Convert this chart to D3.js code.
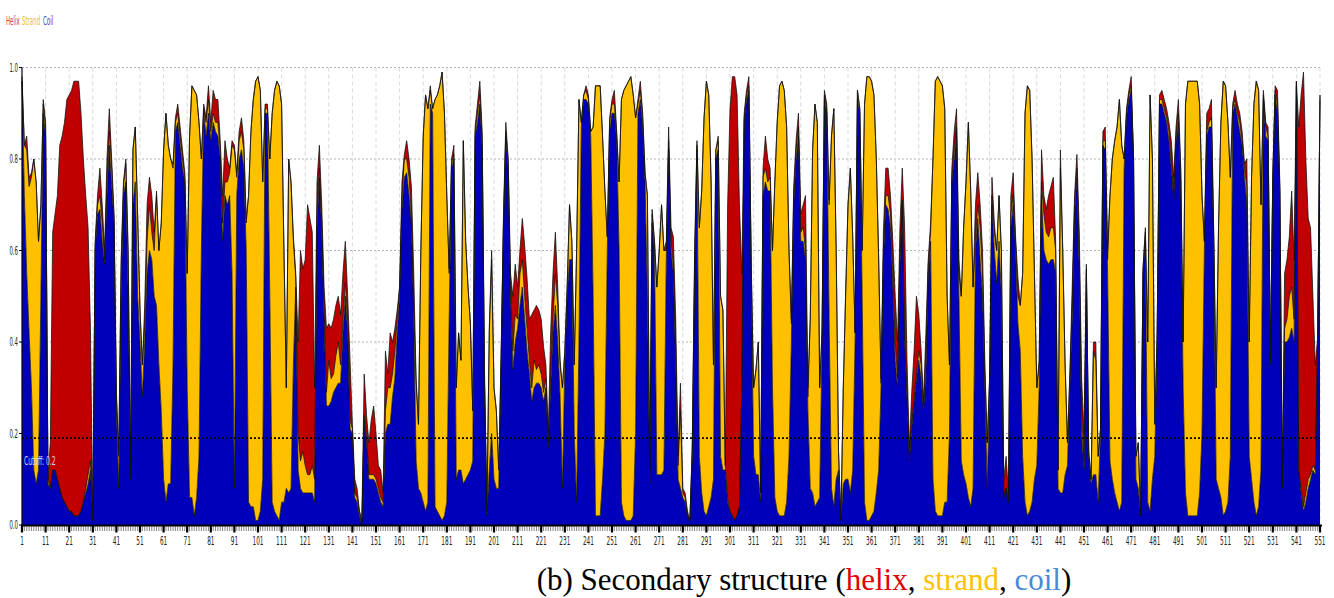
<!DOCTYPE html>
<html>
<head>
<meta charset="utf-8">
<script src="https://cdn.jsdelivr.net/npm/d3@7"></script>
<style>
  body { margin: 0; background: #fff; }
  svg { display: block; }
</style>
</head>
<body>
<div id="chart"></div>
<script>
// per-residue probabilities, residues 1..551 (rows of 10)
const coil = [
  .97,.72,.55,.42,.30,.12,.09,.12,.50,.90,
  .85,.09,.08,.12,.12,.10,.08,.06,.05,.04,
  .03,.03,.02,.02,.02,.03,.05,.07,.09,.12,
  .01,.60,.68,.69,.62,.57,.72,.83,.74,.66,
  .25,.08,.50,.72,.75,.50,.10,.70,.75,.50,
  .40,.28,.40,.55,.60,.58,.50,.48,.35,.25,
  .10,.05,.09,.09,.35,.86,.88,.83,.78,.75,
  .30,.06,.06,.02,.06,.15,.60,.90,.85,.90,
  .84,.88,.86,.85,.80,.62,.72,.70,.72,.55,
  .08,.72,.80,.82,.78,.60,.05,.04,.04,.01,
  .01,.03,.10,.90,.90,.50,.05,.03,.02,.01,
  .05,.05,.08,.07,.08,.35,.52,.12,.08,.07,
  .07,.07,.07,.07,.05,.65,.76,.64,.45,.26,
  .26,.27,.29,.30,.31,.31,.42,.50,.42,.21,
  .20,.06,.05,.02,0,.23,.18,.10,.10,.10,
  .09,.07,.05,.04,.20,.22,.22,.28,.32,.42,
  .50,.69,.76,.77,.72,.66,.45,.14,.08,.07,
  .05,.03,.05,.92,.90,.04,.03,.02,.01,.02,
  .05,.45,.78,.80,.10,.12,.12,.09,.10,.11,
  .12,.14,.85,.88,.92,.82,.30,.02,.12,.20,
  .10,.08,.08,.35,.65,.85,.78,.50,.34,.40,
  .43,.48,.52,.45,.38,.33,.27,.30,.31,.31,
  .30,.27,.30,.17,.30,.42,.48,.40,.28,.08,
  .35,.50,.58,.58,.20,.05,.40,.87,.93,.93,
  .92,.85,.50,.02,.02,.02,.10,.20,.60,.86,
  .90,.90,.84,.60,.05,.02,.01,.01,.01,.02,
  .20,.90,.93,.87,.75,.50,.09,.66,.60,.11,
  .11,.11,.12,.58,.82,.60,.55,.35,.10,.08,
  .06,.05,.02,.01,.15,.55,.82,.15,.07,.03,
  .02,.04,.06,.10,.80,.82,.15,.12,.12,.05,
  .03,.02,.01,.02,.04,.30,.88,.93,.95,.55,
  .15,.11,.11,.05,.72,.75,.73,.73,.30,.06,
  .03,.02,.02,.02,.05,.15,.40,.70,.80,.85,
  .62,.62,.58,.25,.08,.07,.04,.05,.06,.40,
  .93,.90,.45,.08,.04,.10,.12,.01,.09,.10,
  .10,.07,.12,.40,.93,.90,.50,.05,.01,.01,
  .02,.03,.07,.12,.30,.58,.70,.69,.65,.52,
  .36,.30,.57,.70,.40,.28,.14,.21,.27,.32,
  .36,.32,.25,.33,.55,.62,.10,.03,.02,.02,
  .02,.05,.05,.20,.75,.80,.86,.50,.14,.11,
  .09,.06,.04,.08,.60,.67,.58,.50,.30,.08,
  .30,.70,.60,.53,.62,.50,.06,.08,.05,.65,
  .70,.60,.44,.38,.15,.05,.02,.03,.05,.10,
  .13,.30,.72,.60,.58,.57,.58,.58,.55,.08,
  .07,.07,.11,.13,.30,.45,.68,.76,.55,.20,
  .12,.55,.15,.09,.11,.11,.05,.20,.83,.82,
  .55,.14,.10,.07,.05,.03,.05,.78,.89,.93,
  .95,.80,.10,.08,.02,.55,.62,.05,.03,.10,
  .15,.40,.92,.92,.90,.88,.84,.78,.71,.84,
  .88,.75,.30,.07,.02,.02,.02,.02,.02,.07,
  .20,.60,.85,.87,.87,.60,.10,.08,.06,.02,
  .03,.05,.15,.90,.92,.89,.86,.83,.76,.70,
  .15,.10,.05,.02,.04,.12,.93,.85,.84,.35,
  .75,.94,.90,.72,.08,.40,.40,.41,.43,.40,
  .96,.12,.07,.03,.05,.08,.10,.12,.11,.40,.93
];
const strand = [
  0,.11,.27,.32,.46,.68,.66,.50,.20,.02,
  .02,.01,0,0,0,0,0,0,0,0,
  0,0,0,0,0,0,0,.01,.02,.02,
  0,.01,.02,.03,.04,.01,.03,.03,.04,.01,
  .03,.07,.06,.02,.04,.08,.01,.12,.12,.18,
  .07,.07,.04,.07,.10,.06,.10,.24,.25,.41,
  .72,.85,.74,.71,.43,.02,.02,.02,.02,.01,
  .25,.79,.90,.93,.88,.73,.20,.01,.03,.03,
  .02,.02,.02,.03,.02,.04,.03,.05,.05,.28,
  .74,.04,.04,.04,.04,.06,.67,.82,.89,.96,
  .97,.92,.65,.01,.01,.30,.85,.92,.95,.95,
  .87,.55,.22,.73,.67,.27,.02,.08,.06,.09,
  .06,.04,.04,.06,.05,.03,.02,.02,.03,.03,
  .10,.05,.04,.07,.09,.04,.03,.03,.03,.02,
  .01,.01,.01,.01,0,.01,.01,.01,.01,.01,
  .01,.01,.01,.01,.05,.08,.08,.05,.06,.03,
  .02,.02,.04,.03,.04,.02,.02,.17,.14,.53,
  .80,.91,.86,.03,.01,.89,.91,.94,.98,.88,
  .67,.10,.01,.01,.20,.30,.24,.75,.52,.41,
  .32,.11,.01,.02,.02,.02,.01,.01,.30,.38,
  .20,.17,.04,.01,.01,.01,.02,.02,.04,.06,
  .02,.07,.06,.05,.05,.03,.03,.06,.03,.04,
  .03,.02,.02,.01,.03,.03,.07,.08,.07,.22,
  .03,.02,.12,.04,.15,.55,.53,.01,.01,.02,
  .01,.01,.37,.94,.94,.94,.75,.53,.03,.02,
  .02,.02,.01,.15,.88,.93,.95,.96,.97,.92,
  .69,.02,.02,.02,.02,.22,.03,.02,.02,.41,
  .49,.59,.48,.02,.02,.02,.02,.03,.03,.17,
  .01,.01,0,0,.01,.02,.01,.50,.66,.86,
  .95,.90,.69,.25,.02,.02,.35,.35,.01,.01,
  0,0,0,0,0,0,.01,.01,.01,.01,
  .15,.23,.29,.02,.04,.03,.02,.03,.30,.69,
  .85,.94,.95,.93,.82,.45,.04,.02,.02,.02,
  .02,.03,.02,.03,.37,.75,.88,.83,.24,.02,
  .01,.01,.25,.77,.87,.50,.04,0,.21,.40,
  .60,.71,.51,.02,.02,.01,.10,.87,.97,.97,
  .95,.91,.73,.46,.01,.02,.02,.03,.03,.04,
  .04,.02,.01,.01,.01,.01,.01,.01,.01,.01,
  .02,.03,.01,.03,.02,.02,.70,.94,.96,.95,
  .94,.86,.45,.15,.01,.02,.01,.05,.36,.54,
  .66,.82,.69,.44,.02,.03,.07,.05,.03,.10,
  .02,.02,.04,.07,.10,.10,0,0,0,.03,
  .02,.02,.06,.10,.40,.85,.94,.92,.75,.45,
  .17,.05,.03,.08,.06,.06,.07,.07,.05,.04,
  .71,.53,.24,.05,.02,.03,.02,.02,.05,.05,
  .02,.01,.01,.01,.27,.25,.10,.01,.01,.02,
  .03,.58,.70,.77,.82,.90,.78,.02,.01,.01,
  .01,0,.05,.10,0,.01,.02,.35,.91,.70,
  .07,.02,.01,.01,.01,.01,.02,.02,.01,.01,
  .02,.02,.10,.85,.95,.95,.95,.95,.95,.85,
  .52,.02,.01,.01,.02,.02,.20,.57,.82,.95,
  .93,.83,.61,.01,.01,.01,.02,.01,.02,.04,
  .25,.66,.87,.95,.91,.58,.01,.02,.01,.01,
  .01,.01,.02,.01,0,.03,.05,.09,.09,.05,
  .01,0,.01,.01,.02,.02,.01,.01,.01,.01,.01
];
const helix = [
  .01,0,.03,.02,.01,0,0,0,0,.01,
  .01,0,.10,.52,.56,.62,.75,.79,.83,.89,
  .91,.92,.95,.95,.95,.87,.75,.64,.54,.29,
  0,.01,.02,.06,.04,.02,.05,.05,.02,.01,
  .01,.01,.02,.01,.01,.02,0,0,0,0,
  0,0,.04,.08,.06,.08,.04,.01,0,0,
  0,0,0,0,.01,.01,.02,.02,.02,.01,
  0,0,0,0,0,0,0,.01,.01,.03,
  .02,.05,.05,.05,.02,.06,.09,.05,.01,.01,
  .01,.01,.02,.03,.02,.01,0,0,0,0,
  0,0,0,.01,.01,0,0,0,0,0,
  0,0,0,0,0,.01,.01,.20,.46,.40,
  .45,.59,.56,.51,.20,.07,.05,.04,.04,.14,
  .08,.11,.12,.11,.10,.11,.10,.09,.05,.13,
  .01,.03,.02,0,.01,.09,.05,.07,.12,.15,
  .10,.05,.06,.02,.13,.03,.12,.07,.05,.02,
  0,.04,.01,.04,.04,.06,.08,.01,0,0,
  0,0,0,.01,0,0,0,0,0,0,
  0,.01,.01,.02,0,0,0,0,0,0,
  0,0,.01,.02,.03,.02,.02,0,.01,.02,
  0,0,0,.01,.01,.02,0,.03,.12,.11,
  .07,.05,.09,.11,.11,.09,.16,.11,.14,.12,
  .12,.10,.03,.02,.09,.10,.09,.04,.01,0,
  0,0,0,0,0,0,0,0,0,.01,
  .01,0,0,0,0,0,0,0,0,.01,
  .01,.03,.01,0,0,0,0,0,0,0,
  0,.01,.02,.01,0,0,0,.01,0,0,
  0,0,0,.02,.03,.03,.06,.07,.02,.06,
  .01,.01,.01,0,.01,.03,.01,0,0,0,
  0,0,0,0,0,.01,0,0,0,.64,
  .88,.96,.97,.92,.66,.25,.01,.01,.02,.01,
  0,0,0,0,.02,.07,.05,.02,0,0,
  0,0,0,0,0,0,.01,.02,.02,.03,
  .04,.05,.12,.02,0,0,0,0,0,.01,
  .01,.01,.01,0,0,0,0,0,0,.01,
  0,0,0,0,0,0,0,0,0,0,
  0,0,0,0,.01,.04,.06,.06,.04,.06,
  .10,.08,.07,.07,.24,.07,.02,.07,.10,.17,
  .08,.03,.01,.06,.01,.02,0,0,0,0,
  0,0,0,0,.02,.04,.04,.03,0,0,
  0,0,0,0,.08,.07,.05,.05,.02,0,
  0,.04,.02,0,0,0,.04,.07,.02,.04,
  .05,.01,.04,0,0,0,0,0,0,0,
  0,.01,.07,.04,.05,.09,.09,.11,.02,0,
  .04,0,0,0,.01,.04,.02,.03,.04,.07,
  .06,.01,0,0,.02,.04,0,0,.02,.03,
  .02,0,0,0,0,0,0,0,.01,.01,
  .02,0,0,0,0,0,.01,0,0,0,
  0,0,.01,.02,.02,.02,.02,.04,.04,.02,
  .03,.01,0,0,0,0,0,0,0,0,
  0,0,.04,.03,.04,.01,0,0,0,0,
  0,0,0,.01,.02,.02,.02,.02,.01,.06,
  0,0,0,0,0,0,.01,.01,.02,0,
  .01,.01,.03,.01,.01,.12,.13,.13,.21,.13,
  0,.75,.86,.95,.73,.57,.54,.37,.23,0,0
];

const legendLabels = ["Helix", "Strand", "Coil"];
const xTicks = d3.range(1, 552, 10);
const yTicks = [0, 0.2, 0.4, 0.6, 0.8, 1.0];
const cutoff = 0.19;
const caption = ["(b) Secondary structure (", "helix", ", ", "strand", ", ", "coil", ")"];

const colors = {coil: "#0000bb", strand: "#ffc000", helix: "#c00000"};
const legendColors = ["#d23c3c", "#e8c020", "#3a3ad0"];
const captionColors = ["#000", "#e00000", "#000", "#ffc000", "#000", "#4a8ad8", "#000"];

const width = 1334, height = 598;

const svg = d3.select("#chart")
  .append("svg")
  .attr("width", width)
  .attr("height", height);

const x = d3.scaleLinear().domain([1, 551]).range([22, 1320]);
const y = d3.scaleLinear().domain([0, 1]).range([525, 67.5]);

// squeezed little labels like the original tool
function narrow(g, px, py, str, size, sx, anchor, fill) {
  return g.append("text")
    .attr("transform", "translate(" + px + "," + py + ") scale(" + sx + ",1)")
    .attr("text-anchor", anchor)
    .style("font-family", "DejaVu Sans, sans-serif")
    .style("font-size", size + "px")
    .attr("fill", fill)
    .text(str);
}

// grid
const grid = svg.append("g");
grid.selectAll("line.h")
  .data(yTicks.filter(d => d > 0))
  .enter().append("line")
  .attr("x1", x(1)).attr("x2", x(551) + 2)
  .attr("y1", d => y(d)).attr("y2", d => y(d))
  .attr("stroke", "#b4b4b4")
  .attr("stroke-width", 1.2)
  .attr("stroke-dasharray", "2,2");
grid.selectAll("line.v")
  .data(xTicks.slice(1))
  .enter().append("line")
  .attr("x1", d => x(d)).attr("x2", d => x(d))
  .attr("y1", y(1)).attr("y2", y(0))
  .attr("stroke", "#d8d8d8")
  .attr("stroke-width", 1)
  .attr("stroke-dasharray", "4,3");

// stacked areas
const rows = coil.map((c, i) => ({residue: i + 1, coil: c, strand: strand[i], helix: helix[i]}));
const keys = ["coil", "strand", "helix"];
const series = d3.stack().keys(keys)(rows);

const area = d3.area()
  .x(d => x(d.data.residue))
  .y0(d => y(d[0]))
  .y1(d => y(d[1]));

const edge = d3.line()
  .x(d => x(d.data.residue))
  .y(d => y(d[1]));

svg.append("g")
  .selectAll("path")
  .data(series)
  .enter().append("path")
  .attr("d", area)
  .attr("fill", d => colors[d.key]);

svg.append("g")
  .selectAll("path")
  .data(series)
  .enter().append("path")
  .attr("d", edge)
  .attr("fill", "none")
  .attr("stroke", "#111")
  .attr("stroke-opacity", 0.85)
  .attr("stroke-width", 0.9);

// cutoff line
svg.append("line")
  .attr("x1", x(1)).attr("x2", x(551) + 2)
  .attr("y1", y(cutoff)).attr("y2", y(cutoff))
  .attr("stroke", "#000")
  .attr("stroke-width", 1.6)
  .attr("stroke-dasharray", "2,2");
narrow(svg, 24, y(cutoff) + 27, "Cutoff: 0.2", 12, 0.5, "start", "#d8d8f0");

// left edge
svg.append("line")
  .attr("x1", x(1)).attr("x2", x(1))
  .attr("y1", y(1)).attr("y2", y(0))
  .attr("stroke", "#000").attr("stroke-width", 1.2);

// y axis labels and ticks
const yAxis = svg.append("g");
yTicks.forEach(t => {
  yAxis.append("line")
    .attr("x1", 19).attr("x2", 22)
    .attr("y1", y(t)).attr("y2", y(t))
    .attr("stroke", "#000");
  narrow(yAxis, 18, y(t) + 4, t.toFixed(1), 12, 0.45, "end", "#222");
});

// x axis
const xAxis = svg.append("g");
xAxis.append("line")
  .attr("x1", x(1) - 1).attr("x2", x(551) + 2)
  .attr("y1", y(0) + 0.5).attr("y2", y(0) + 0.5)
  .attr("stroke", "#000").attr("stroke-width", 2);
xAxis.selectAll("line.minor")
  .data(rows.map(d => d.residue))
  .enter().append("line")
  .attr("x1", d => x(d)).attr("x2", d => x(d))
  .attr("y1", y(0) + 1).attr("y2", y(0) + 6)
  .attr("stroke", "#333").attr("stroke-width", 0.6);
xAxis.selectAll("line.major")
  .data(xTicks)
  .enter().append("line")
  .attr("x1", d => x(d)).attr("x2", d => x(d))
  .attr("y1", y(0) + 1).attr("y2", y(0) + 7.5)
  .attr("stroke", "#000").attr("stroke-width", 2.2);
xTicks.forEach(t => {
  narrow(xAxis, x(t), 545, String(t), 12, 0.48, "middle", "#222");
});

// legend
const legend = svg.append("g");
const legendX = [6, 22, 43];
legendLabels.forEach((s, i) => {
  narrow(legend, legendX[i], 25, s, 13, 0.42, "start", legendColors[i]);
});

// caption
const cap = svg.append("text")
  .attr("x", 804)
  .attr("y", 590)
  .attr("text-anchor", "middle")
  .style("font-family", "Liberation Serif, Times New Roman, serif")
  .style("font-size", "31px");
caption.forEach((s, i) => {
  cap.append("tspan").attr("fill", captionColors[i]).text(s);
});
</script>
</body>
</html>
